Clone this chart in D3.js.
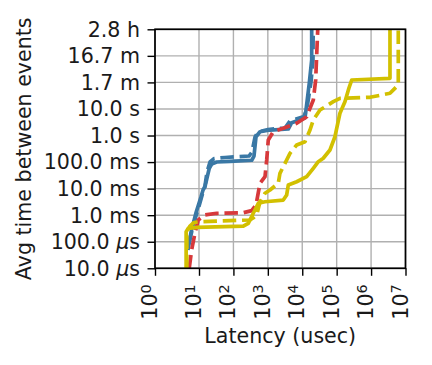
<!DOCTYPE html>
<html>
<head>
<meta charset="utf-8">
<script src="https://cdn.jsdelivr.net/npm/d3@7"></script>
<style>
  body { margin: 0; background: #fff; }
  svg { font-family: "DejaVu Sans", sans-serif; }
</style>
</head>
<body>
<svg></svg>
<script>
// Data: latency (usec) vs avg time between events (seconds)
let blueSolid = [
    [5.6, 4.9e-5], [6.6, 2.3e-4], [8.5, 1.2e-3], [11.4, 4.8e-3], [13.1, 8.9e-3],
    [14.9, 0.0118], [17.4, 0.0281], [19.9, 0.0583], [23.4, 0.0847], [32.7, 0.1007],
    [79.6, 0.107], [340, 0.117], [396, 0.169], [453, 0.90], [592, 1.39],
    [1156, 1.61], [3930, 1.76], [4930, 3.04], [12000, 4.57], [12850, 9.1],
    [16000, 92.7], [18800, 698], [18800, 3e4]
];
let blueDashed = [
    [5.9, 8.2e-5], [7.3, 3.9e-4], [10, 2.2e-3], [13.1, 7.5e-3], [14.9, 0.0126],
    [17.1, 0.0423], [20.9, 0.1007], [27.3, 0.136], [57, 0.149], [284, 0.169],
    [347, 0.24], [424, 0.88], [518, 1.36], [1010, 1.69], [3150, 1.92],
    [4400, 3.52], [11250, 5.2], [13750, 10.9], [17950, 104], [20500, 698], [20900, 3e4]
];
let redDashed = [
    [6.0, 1e-5], [6.8, 4.9e-5], [8.1, 2.1e-4], [9.6, 6.6e-4], [14.9, 1.02e-3],
    [32.7, 1.18e-3], [194, 1.24e-3], [340, 1.48e-3], [453, 2.4e-3], [592, 0.0159],
    [827, 0.0281], [927, 0.120], [1030, 0.68], [1440, 1.39], [2810, 1.87],
    [6890, 2.88], [13450, 5.1], [20940, 21.8], [24550, 123], [29200, 3e4]
];
let yellowSolid = [
    [5.1, 1e-5], [5.1, 2.4e-4], [5.7, 3.2e-4], [8.9, 3.5e-4], [194, 3.9e-4],
    [270, 4.95e-4], [378, 1.18e-3], [528, 2.8e-3], [827, 3.2e-3], [2810, 3.7e-3],
    [3530, 5.8e-3], [3930, 0.0137], [6890, 0.0182], [13450, 0.0281], [20940, 0.0583],
    [29250, 0.103], [40800, 0.139], [63800, 0.285], [89100, 0.90], [124500, 6.9],
    [173800, 18.8], [227500, 61.6], [273400, 123], [3.54e6, 143], [3.54e6, 3e4]
];
let yellowDashed = [
    [5.3, 1e-5], [5.3, 2.3e-4], [6.2, 3.9e-4], [7.7, 5.3e-4], [10.7, 5.7e-4],
    [303, 6.6e-4], [371, 7.8e-4], [475, 1.02e-3], [592, 3.2e-3], [827, 6.7e-3],
    [1156, 8.9e-3], [2010, 0.0159], [2250, 0.0378], [2810, 0.067], [4400, 0.214],
    [6890, 0.44], [12000, 0.585], [16800, 1.61], [20940, 3.85], [32750, 9.1],
    [79800, 18.8], [124500, 25.2], [927000, 27.5], [3.54e6, 38.9], [6.17e6, 80], [6.17e6, 3e4]
];

// Tick values and labels
let xTicks = [1, 10, 100, 1e3, 1e4, 1e5, 1e6, 1e7];
let xTickExponents = ['0', '1', '2', '3', '4', '5', '6', '7'];
let yTicks = [1e-5, 1e-4, 1e-3, 1e-2, 1e-1, 1, 10, 100, 1e3, 1e4];
let yTickLabels = ['10.0 µs', '100.0 µs', '1.0 ms', '10.0 ms', '100.0 ms', '1.0 s', '10.0 s', '1.7 m', '16.7 m', '2.8 h'];

// SVG dimensions
let width = 432, height = 365;
let plotLeft = 155, plotRight = 405.5, plotTop = 29.3, plotBottom = 268.3;
let fontSize = 20.6;

let svg = d3.select('svg').attr('width', width).attr('height', height);

// Scales (first decade drawn wider, as in the original)
let xScale = d3.scaleLog().domain([1, 10, 1e7]).range([plotLeft, 199, plotRight]);
let yScale = d3.scaleLog().domain([1e-5, 1e4]).range([plotBottom, plotTop]);

// Grid
let grid = svg.append('g');
grid.selectAll('.vgrid')
    .data(xTicks)
    .enter()
    .append('line')
    .attr('x1', d => xScale(d)).attr('x2', d => xScale(d))
    .attr('y1', plotTop).attr('y2', plotBottom)
    .attr('stroke', '#b0b0b0').attr('stroke-width', 1.4);
grid.selectAll('.hgrid')
    .data(yTicks)
    .enter()
    .append('line')
    .attr('y1', d => yScale(d)).attr('y2', d => yScale(d))
    .attr('x1', plotLeft).attr('x2', plotRight)
    .attr('stroke', '#b0b0b0').attr('stroke-width', 1.4);

// Clip for the lines
svg.append('clipPath').attr('id', 'clip')
    .append('rect')
    .attr('x', plotLeft).attr('y', plotTop)
    .attr('width', plotRight - plotLeft).attr('height', plotBottom - plotTop);

let line = d3.line()
    .x(d => xScale(d[0]))
    .y(d => yScale(d[1]));

let series = [
    { data: blueSolid, color: '#3a78a5', dash: null },
    { data: blueDashed, color: '#3a78a5', dash: '13.5,5.8' },
    { data: redDashed, color: '#d7393b', dash: '13.5,5.8' },
    { data: yellowSolid, color: '#d2c000', dash: null },
    { data: yellowDashed, color: '#d2c000', dash: '13.5,5.8' }
];

svg.append('g')
    .attr('clip-path', 'url(#clip)')
    .selectAll('path')
    .data(series)
    .enter()
    .append('path')
    .attr('d', d => line(d.data))
    .attr('fill', 'none')
    .attr('stroke', d => d.color)
    .attr('stroke-width', 3.7)
    .attr('stroke-linejoin', 'round')
    .attr('stroke-dasharray', d => d.dash);

// Axes
let xAxis = d3.axisBottom(xScale).tickValues(xTicks).tickFormat('').tickSizeOuter(0).tickSize(7.5);
let gx = svg.append('g')
    .attr('transform', `translate(0, ${plotBottom})`)
    .call(xAxis);
gx.select('.domain').remove();
gx.selectAll('.tick line').attr('stroke', '#000').attr('stroke-width', 1.4);

let yAxis = d3.axisLeft(yScale).tickValues(yTicks).tickFormat('').tickSizeOuter(0).tickSize(7.5);
let gy = svg.append('g')
    .attr('transform', `translate(${plotLeft}, 0)`)
    .call(yAxis);
gy.select('.domain').remove();
gy.selectAll('.tick line').attr('stroke', '#000').attr('stroke-width', 1.4);

// Frame
svg.append('rect')
    .attr('x', plotLeft).attr('y', plotTop)
    .attr('width', plotRight - plotLeft).attr('height', plotBottom - plotTop)
    .attr('fill', 'none')
    .attr('stroke', '#000')
    .attr('stroke-width', 1.7);

// Y tick labels
let yLabels = svg.append('g')
    .selectAll('text')
    .data(yTicks)
    .enter()
    .append('text')
    .attr('x', 140)
    .attr('y', d => yScale(d))
    .attr('dy', '0.36em')
    .attr('text-anchor', 'end')
    .attr('font-size', fontSize)
    .attr('fill', '#1a1a1a');
yLabels.each(function (d, i) {
    let parts = yTickLabels[i].split('µ');
    let t = d3.select(this);
    t.append('tspan').text(parts[0]);
    if (parts.length > 1) {
        t.append('tspan').attr('font-style', 'italic').text('µ');
        t.append('tspan').text(parts[1]);
    }
});

// X tick labels (rotated, 10^n)
let xLabels = svg.append('g')
    .selectAll('text')
    .data(xTicks)
    .enter()
    .append('text')
    .attr('transform', d => `translate(${xScale(d) + 2}, ${plotBottom + 16}) rotate(-90)`)
    .attr('text-anchor', 'end')
    .attr('font-size', fontSize)
    .attr('fill', '#1a1a1a');
xLabels.append('tspan').text('10');
xLabels.append('tspan')
    .attr('dy', '-0.45em')
    .attr('font-size', fontSize * 0.7)
    .text((d, i) => xTickExponents[i]);

// Axis titles
svg.append('text')
    .attr('x', (plotLeft + plotRight) / 2)
    .attr('y', 343)
    .attr('text-anchor', 'middle')
    .attr('font-size', fontSize)
    .attr('fill', '#1a1a1a')
    .text('Latency (usec)');

svg.append('text')
    .attr('transform', `translate(31, ${(plotTop + plotBottom) / 2}) rotate(-90)`)
    .attr('text-anchor', 'middle')
    .attr('font-size', fontSize)
    .attr('fill', '#1a1a1a')
    .text('Avg time between events');
</script>
</body>
</html>
